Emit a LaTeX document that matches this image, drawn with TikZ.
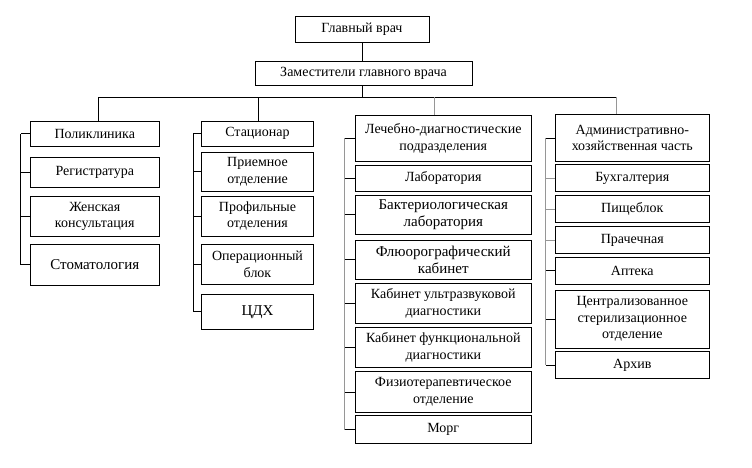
\documentclass[tikz,border=0pt]{standalone}
\usepackage{fontspec}
\setmainfont{Liberation Serif}
\usepackage{xcolor}
\definecolor{linegray}{RGB}{150,150,150}

\begin{document}
\begin{tikzpicture}[x=1pt, y=-1pt, line width=0.7pt,
        unit/.style={draw, inner sep=1pt, align=center, font=\fontsize{14}{16.5}\selectfont},
        bigunit/.style={unit, font=\fontsize{15}{17}\selectfont}]
        \useasboundingbox (0,0) rectangle (752,468);

        % top
        \node[unit, minimum width=134pt, minimum height=26pt] (chief) at (362,29) {Главный врач};
        \node[unit, minimum width=217pt, minimum height=24.7pt] (deputies) at (363.5,73.3) {Заместители главного врача};

        % column 1
        \node[unit, minimum width=129pt, minimum height=24.3pt] (poly) at (94.8,133.8) {Поликлиника};
        \node[unit, minimum width=129pt, minimum height=29.6pt] (reg) at (94.8,172.5) {Регистратура};
        \node[unit, minimum width=129pt, minimum height=40.7pt] (zhen) at (94.8,216.3) {Женская\\консультация};
        \node[bigunit, minimum width=129pt, minimum height=40.7pt] (stom) at (94.8,264.7) {Стоматология};

        % column 2
        \node[unit, minimum width=112.4pt, minimum height=24.3pt] (stac) at (257.5,133.8) {Стационар};
        \node[unit, minimum width=112.4pt, minimum height=38.7pt] (priem) at (257.5,171.7) {Приемное\\отделение};
        \node[unit, minimum width=112.4pt, minimum height=40pt] (prof) at (257.5,216) {Профильные\\отделения};
        \node[unit, minimum width=112.4pt, minimum height=39.7pt] (oper) at (257.5,264.2) {Операционный\\блок};
        \node[bigunit, minimum width=112.4pt, minimum height=35.3pt] (cdh) at (257.5,311.7) {ЦДХ};

        % column 3
        \node[unit, minimum width=176.7pt, minimum height=46.7pt] (lech) at (443.3,138.3) {Лечебно-диагностические\\подразделения};
        \node[unit, minimum width=176.7pt, minimum height=26pt] (lab) at (443.3,178) {Лаборатория};
        \node[bigunit, minimum width=176.7pt, minimum height=39pt] (bakt) at (443.3,214.5) {Бактериологическая\\лаборатория};
        \node[bigunit, minimum width=176.7pt, minimum height=39.3pt] (fluo) at (443.3,259.7) {Флюорографический\\кабинет};
        \node[unit, minimum width=176.7pt, minimum height=40pt] (uzi) at (443.3,303.3) {Кабинет ультразвуковой\\диагностики};
        \node[unit, minimum width=176.7pt, minimum height=40.4pt] (func) at (443.3,347.5) {Кабинет функциональной\\диагностики};
        \node[unit, minimum width=176.7pt, minimum height=40.6pt] (fizio) at (443.3,392) {Физиотерапевтическое\\отделение};
        \node[unit, minimum width=176.7pt, minimum height=27.6pt] (morg) at (443.3,429.5) {Морг};

        % column 4
        \node[unit, minimum width=154pt, minimum height=47.4pt] (adm) at (632.3,138) {Административно-\\хозяйственная часть};
        \node[unit, minimum width=154pt, minimum height=27.4pt] (buh) at (632.3,178) {Бухгалтерия};
        \node[unit, minimum width=154pt, minimum height=26.6pt] (pish) at (632.3,209) {Пищеблок};
        \node[unit, minimum width=154pt, minimum height=26.6pt] (prach) at (632.3,240) {Прачечная};
        \node[unit, minimum width=154pt, minimum height=27pt] (apt) at (632.3,270.8) {Аптека};
        \node[unit, minimum width=154pt, minimum height=58.3pt] (cso) at (632.3,319.2) {Централизованное\\стерилизационное\\отделение};
        \node[unit, minimum width=154pt, minimum height=26.6pt] (arh) at (632.3,365) {Архив};

        % bus lines
        \coordinate (hub) at (362,97.3);
        \coordinate (b1) at (98,97.3);
        \coordinate (b2) at (258.3,97.3);
        \coordinate (b3) at (434.3,97.3);
        \coordinate (b4) at (616.7,97.3);
        \coordinate (s1) at (20.7,0);
        \coordinate (s2) at (193.3,0);
        \coordinate (s3) at (344.7,0);
        \coordinate (s4) at (545.7,0);

        \draw (chief.south) -- (chief.south |- deputies.north);
        \draw (hub |- deputies.south) -- (hub);
        \draw (b1) -- (b4);
        \draw (b1) -- (b1 |- poly.north);
        \draw (b2) -- (b2 |- stac.north);
        \draw[linegray] (b3) -- (b3 |- lech.north);
        \draw[linegray] (b4) -- (b4 |- adm.north);

        \draw (poly.west -| s1) -- (stom.west -| s1);
        \foreach \n in {poly,reg,zhen,stom}
            \draw (\n.west) -- (\n.west -| s1);

        \draw (stac.west -| s2) -- (cdh.west -| s2);
        \foreach \n in {stac,priem,prof,oper,cdh}
            \draw (\n.west) -- (\n.west -| s2);

        \draw[linegray] (lech.west -| s3) -- (morg.west -| s3);
        \foreach \n in {lech,lab,bakt,fluo,uzi,func,fizio,morg}
            \draw (\n.west) -- (\n.west -| s3);

        \draw[linegray] (adm.west -| s4) -- (arh.west -| s4);
        \foreach \n in {adm,apt,cso,arh}
            \draw (\n.west) -- (\n.west -| s4);
        \foreach \n in {buh,pish,prach}
            \draw[linegray] (\n.west) -- (\n.west -| s4);
    \end{tikzpicture}
\end{document}
